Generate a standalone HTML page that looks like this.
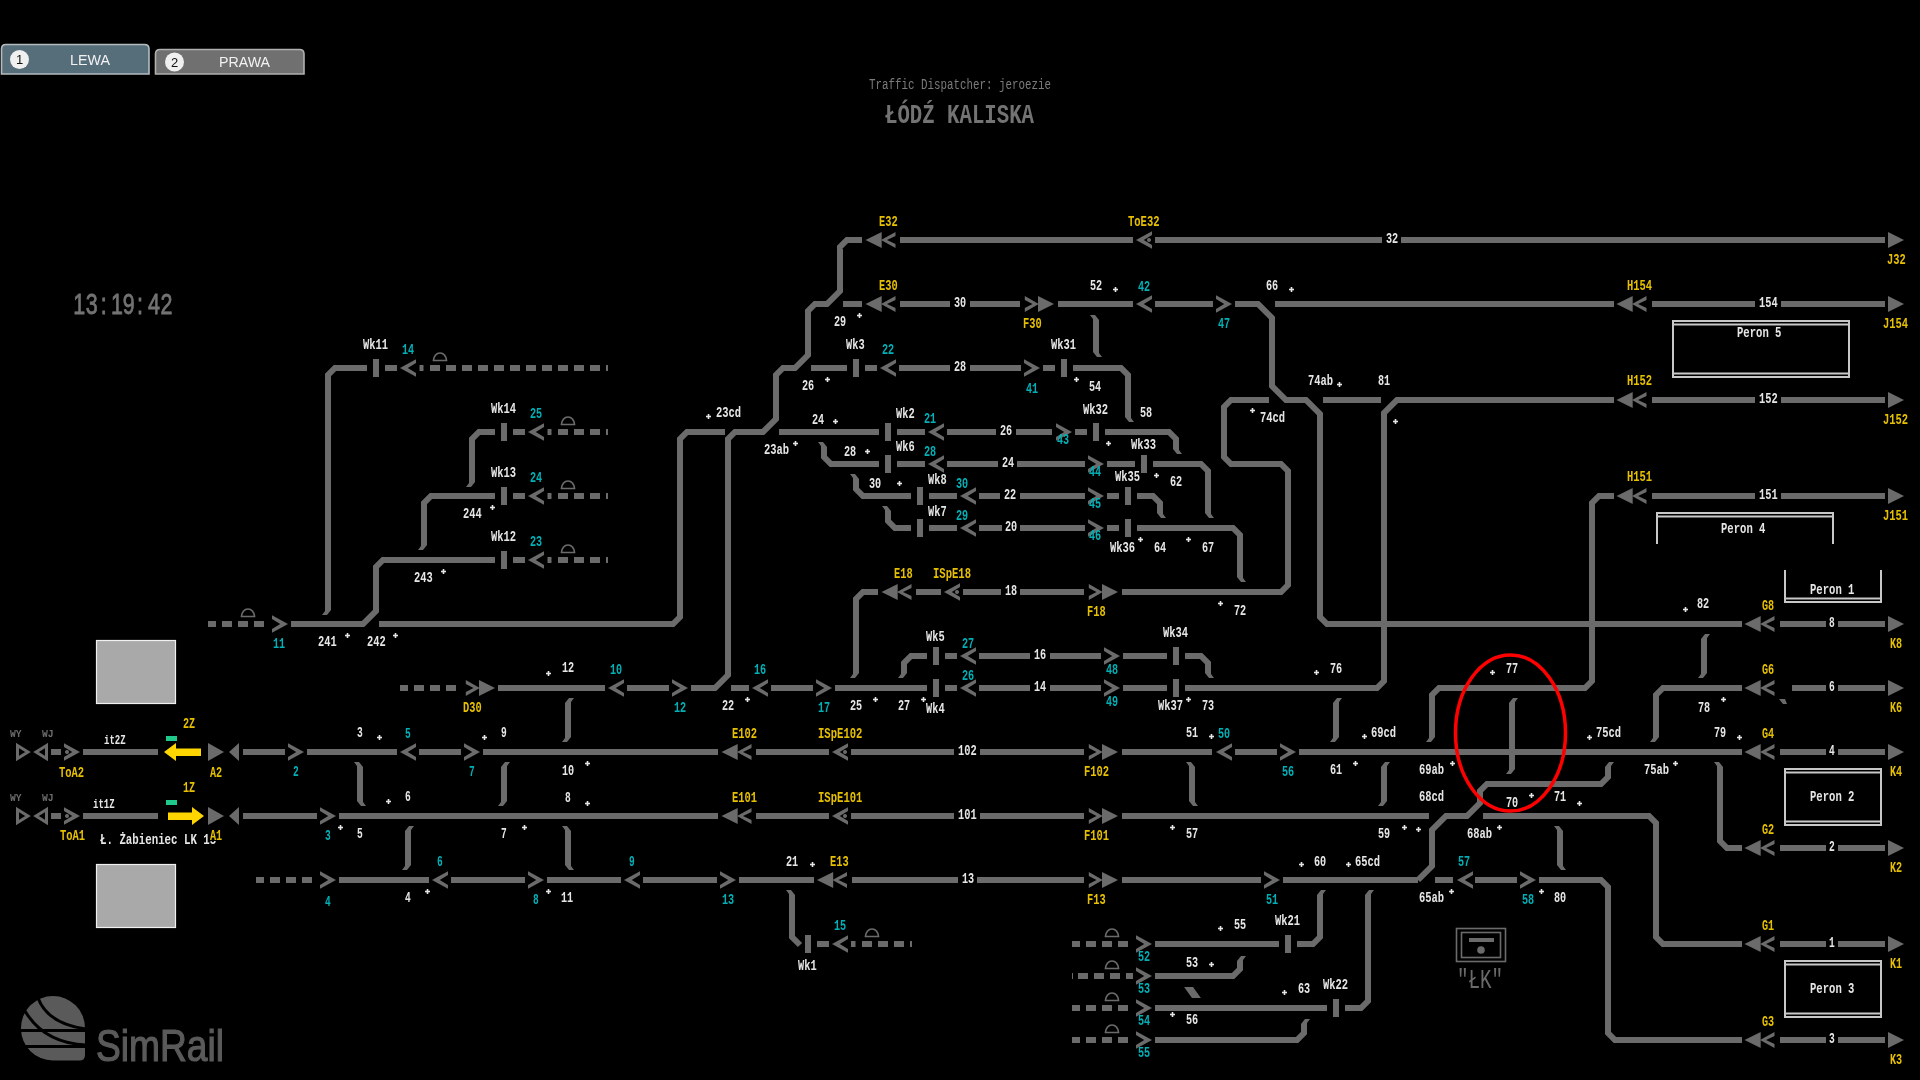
<!DOCTYPE html>
<html><head><meta charset="utf-8"><style>
html,body{margin:0;padding:0;background:#000;width:1920px;height:1080px;overflow:hidden}
svg{display:block;position:absolute;left:0;top:0;will-change:transform}
text{font-family:"Liberation Sans",sans-serif}
.l{font-weight:bold;font-family:"Liberation Mono",monospace}
</style></head><body>
<svg width="1920" height="1080" viewBox="0 0 1920 1080">
<rect width="1920" height="1080" fill="#000"/>
<!-- tabs -->
<path d="M1.5 74 V49 Q1.5 44.5 6 44.5 H144.5 Q149 44.5 149 49 V74 Z" fill="#566d7a" stroke="#b4bcc0" stroke-width="1.6"/>
<circle cx="19.5" cy="59.5" r="9.5" fill="#f0f0f0"/>
<text x="19.5" y="64" fill="#111" font-size="13" text-anchor="middle">1</text>
<text x="70" y="65" fill="#f2f2f2" font-size="15" textLength="40" lengthAdjust="spacingAndGlyphs">LEWA</text>
<path d="M155.5 74 V54 Q155.5 49.5 160 49.5 H299.5 Q304 49.5 304 54 V74 Z" fill="#707070" stroke="#b0b0b0" stroke-width="1.6"/>
<circle cx="174.5" cy="62" r="9.5" fill="#f0f0f0"/>
<text x="174.5" y="66.5" fill="#111" font-size="13" text-anchor="middle">2</text>
<text x="219" y="67" fill="#f2f2f2" font-size="15" textLength="51" lengthAdjust="spacingAndGlyphs">PRAWA</text>
<!-- header -->
<text x="869" y="88.5" fill="#7c7c7c" font-size="14" style="font-family:'Liberation Mono',monospace" textLength="182" lengthAdjust="spacingAndGlyphs">Traffic Dispatcher: jeroezie</text>
<text x="885" y="123" fill="#737373" font-size="27" font-weight="bold" style="font-family:'Liberation Mono',monospace" textLength="149" lengthAdjust="spacingAndGlyphs">ŁÓDŹ KALISKA</text>
<g transform="translate(0,314) scale(0.74,1)" fill="#737373" stroke="#737373" stroke-width="0.8" font-size="29"><text x="99">1</text><text x="116">3</text><text x="136">:</text><text x="150">1</text><text x="166">9</text><text x="185">:</text><text x="200">4</text><text x="217">2</text></g>
<!-- gray boxes -->
<rect x="96.5" y="640.5" width="79" height="63" fill="#a9a9a9" stroke="#f0f0f0" stroke-width="1.2"/>
<rect x="96.5" y="864.5" width="79" height="63" fill="#a9a9a9" stroke="#f0f0f0" stroke-width="1.2"/>
<!-- logo -->
<g fill="#5a5a5a">
<path d="M21 1028 A32 32 0 0 1 85 1028 V1055 Q85 1060.5 79.5 1060.5 H53 A32 32 0 0 1 21 1028 Z"/>
</g>
<g fill="none" stroke="#000" stroke-width="3">
<path d="M38 998 Q48 1024 86 1029"/>
<path d="M25 1011 Q44 1043 86 1045"/>
<path d="M18 1030.5 H88"/>
<path d="M18 1046.5 H88"/>
</g>
<text x="96" y="1060.5" fill="#5a5a5a" stroke="#5a5a5a" stroke-width="1.2" font-size="45" textLength="128" lengthAdjust="spacingAndGlyphs">SimRail</text>
<!-- LK icon -->
<rect x="1456.5" y="928.5" width="49" height="33" fill="none" stroke="#6b6b6b" stroke-width="1.6"/>
<rect x="1461.5" y="932.5" width="39" height="25" fill="none" stroke="#6b6b6b" stroke-width="1.6"/>
<rect x="1469" y="938" width="25" height="4" fill="#6b6b6b"/>
<circle cx="1481" cy="950" r="3.8" fill="#6b6b6b"/>
<text x="1457" y="988" fill="#6b6b6b" font-size="27" style="font-family:'Liberation Mono',monospace" textLength="46" lengthAdjust="spacingAndGlyphs">"ŁK"</text>
<path d="M862 240 L847 240 L840 247 L840 291 L827 304 L815 304 L808 311 L808 355 L795 368 L783 368 L776 375 L776 419 L763 432 L735 432 L728 439 L728 675 L715 688 L691 688" fill="none" stroke="#6b6b6b" stroke-width="6" stroke-linejoin="miter" stroke-miterlimit="10"/>
<polygon points="881.7,232 865.5,240 881.7,248" fill="#6b6b6b"/>
<polygon points="895.5,232 881,240 895.5,248 895.5,244.1 887,240 895.5,235.9" fill="#6b6b6b"/>
<rect x="900" y="237" width="233" height="6" fill="#6b6b6b"/>
<polygon points="1152,231.2 1136,240 1152,248.8 1152,244.9 1143.8,240 1152,235.1" fill="#6b6b6b"/>
<circle cx="1149" cy="240" r="2" fill="#6b6b6b"/>
<rect x="1155" y="237" width="227" height="6" fill="#6b6b6b"/>
<rect x="1401" y="237" width="484" height="6" fill="#6b6b6b"/>
<polygon points="1888,232 1904,240 1888,248" fill="#6b6b6b"/>
<rect x="843" y="301" width="19" height="6" fill="#6b6b6b"/>
<polygon points="881.7,296 865.5,304 881.7,312" fill="#6b6b6b"/>
<polygon points="895.5,296 881,304 895.5,312 895.5,308.1 887,304 895.5,299.9" fill="#6b6b6b"/>
<rect x="900" y="301" width="50" height="6" fill="#6b6b6b"/>
<rect x="970" y="301" width="50" height="6" fill="#6b6b6b"/>
<polygon points="1024.8,296 1038.8,304 1024.8,312 1024.8,308.1 1032.5,304 1024.8,299.9" fill="#6b6b6b"/>
<polygon points="1038,296 1054,304 1038,312" fill="#6b6b6b"/>
<rect x="1058" y="301" width="75" height="6" fill="#6b6b6b"/>
<polygon points="1152,295.2 1136,304 1152,312.8 1152,308.9 1143.8,304 1152,299.1" fill="#6b6b6b"/>
<rect x="1155" y="301" width="58" height="6" fill="#6b6b6b"/>
<polygon points="1216,295.2 1232,304 1216,312.8 1216,308.9 1224.2,304 1216,299.1" fill="#6b6b6b"/>
<path d="M1235 304 L1258 304 L1272 318 L1272 386 L1286 400 L1306 400 L1320 414 L1320 617 L1327 624 L1742 624" fill="none" stroke="#6b6b6b" stroke-width="6" stroke-linejoin="miter" stroke-miterlimit="10"/>
<rect x="1275" y="301" width="339" height="6" fill="#6b6b6b"/>
<polygon points="1632.7,296 1616.5,304 1632.7,312" fill="#6b6b6b"/>
<polygon points="1646.5,296 1632,304 1646.5,312 1646.5,308.1 1638,304 1646.5,299.9" fill="#6b6b6b"/>
<rect x="1652" y="301" width="103" height="6" fill="#6b6b6b"/>
<rect x="1781" y="301" width="104" height="6" fill="#6b6b6b"/>
<polygon points="1888,296 1904,304 1888,312" fill="#6b6b6b"/>
<rect x="1093" y="321" width="6" height="30" fill="#6b6b6b"/>
<polygon points="1099,322 1099,320 1095,315 1090,315 1093,319 1093,322" fill="#6b6b6b"/>
<polygon points="1093,350 1093,352 1097,357 1102,357 1099,353 1099,350" fill="#6b6b6b"/>
<path d="M367 368 L335 368 L328 375 L328 609" fill="none" stroke="#6b6b6b" stroke-width="6" stroke-linejoin="miter" stroke-miterlimit="10"/>
<polygon points="331,608 331,610 327,615 322,615 325,611 325,608" fill="#6b6b6b"/>
<rect x="373" y="359" width="6" height="18" fill="#6b6b6b"/>
<rect x="385" y="365" width="12" height="6" fill="#6b6b6b"/>
<polygon points="416,359.2 400,368 416,376.8 416,372.9 407.8,368 416,363.1" fill="#6b6b6b"/>
<rect x="419.5" y="365" width="4" height="6" fill="#6b6b6b"/>
<rect x="430" y="365" width="10" height="6" fill="#6b6b6b"/>
<rect x="446" y="365" width="10" height="6" fill="#6b6b6b"/>
<rect x="462" y="365" width="10" height="6" fill="#6b6b6b"/>
<rect x="478" y="365" width="10" height="6" fill="#6b6b6b"/>
<rect x="494" y="365" width="10" height="6" fill="#6b6b6b"/>
<rect x="510" y="365" width="10" height="6" fill="#6b6b6b"/>
<rect x="526" y="365" width="10" height="6" fill="#6b6b6b"/>
<rect x="542" y="365" width="10" height="6" fill="#6b6b6b"/>
<rect x="558" y="365" width="10" height="6" fill="#6b6b6b"/>
<rect x="574" y="365" width="10" height="6" fill="#6b6b6b"/>
<rect x="590" y="365" width="10" height="6" fill="#6b6b6b"/>
<rect x="606" y="365" width="2" height="6" fill="#6b6b6b"/>
<path d="M433.5 360.5 A6.5 7.5 0 0 1 446.5 360.5 Z" fill="none" stroke="#6b6b6b" stroke-width="1.7"/>
<rect x="811" y="365" width="36" height="6" fill="#6b6b6b"/>
<rect x="853" y="359" width="6" height="18" fill="#6b6b6b"/>
<rect x="865" y="365" width="12" height="6" fill="#6b6b6b"/>
<polygon points="896,359.2 880,368 896,376.8 896,372.9 887.8,368 896,363.1" fill="#6b6b6b"/>
<rect x="899" y="365" width="51" height="6" fill="#6b6b6b"/>
<rect x="970" y="365" width="51" height="6" fill="#6b6b6b"/>
<polygon points="1024,359.2 1040,368 1024,376.8 1024,372.9 1032.2,368 1024,363.1" fill="#6b6b6b"/>
<rect x="1043" y="365" width="12" height="6" fill="#6b6b6b"/>
<rect x="1061" y="359" width="6" height="18" fill="#6b6b6b"/>
<path d="M1073 368 L1121 368 L1128 375 L1128 416" fill="none" stroke="#6b6b6b" stroke-width="6" stroke-linejoin="miter" stroke-miterlimit="10"/>
<polygon points="1125,415 1125,417 1129,422 1134,422 1131,418 1131,415" fill="#6b6b6b"/>
<path d="M1269 400 L1231 400 L1224 407 L1224 457 L1231 464 L1281 464 L1288 471 L1288 585 L1281 592 L1122 592" fill="none" stroke="#6b6b6b" stroke-width="6" stroke-linejoin="miter" stroke-miterlimit="10"/>
<rect x="1323" y="397" width="58" height="6" fill="#6b6b6b"/>
<path d="M1185 688 L1377 688 L1384 681 L1384 413 L1397 400 L1614 400" fill="none" stroke="#6b6b6b" stroke-width="6" stroke-linejoin="miter" stroke-miterlimit="10"/>
<polygon points="1632.7,392 1616.5,400 1632.7,408" fill="#6b6b6b"/>
<polygon points="1646.5,392 1632,400 1646.5,408 1646.5,404.1 1638,400 1646.5,395.9" fill="#6b6b6b"/>
<rect x="1652" y="397" width="103" height="6" fill="#6b6b6b"/>
<rect x="1781" y="397" width="104" height="6" fill="#6b6b6b"/>
<polygon points="1888,392 1904,400 1888,408" fill="#6b6b6b"/>
<path d="M495 432 L479 432 L472 439 L472 481" fill="none" stroke="#6b6b6b" stroke-width="6" stroke-linejoin="miter" stroke-miterlimit="10"/>
<polygon points="475,480 475,482 471,487 466,487 469,483 469,480" fill="#6b6b6b"/>
<rect x="501" y="423" width="6" height="18" fill="#6b6b6b"/>
<rect x="513" y="429" width="12" height="6" fill="#6b6b6b"/>
<polygon points="544,423.2 528,432 544,440.8 544,436.9 535.8,432 544,427.1" fill="#6b6b6b"/>
<rect x="547.5" y="429" width="4" height="6" fill="#6b6b6b"/>
<rect x="558" y="429" width="10" height="6" fill="#6b6b6b"/>
<rect x="574" y="429" width="10" height="6" fill="#6b6b6b"/>
<rect x="590" y="429" width="10" height="6" fill="#6b6b6b"/>
<rect x="606" y="429" width="2" height="6" fill="#6b6b6b"/>
<path d="M561.5 424.5 A6.5 7.5 0 0 1 574.5 424.5 Z" fill="none" stroke="#6b6b6b" stroke-width="1.7"/>
<path d="M379 624 L673 624 L680 617 L680 439 L687 432 L725 432" fill="none" stroke="#6b6b6b" stroke-width="6" stroke-linejoin="miter" stroke-miterlimit="10"/>
<rect x="779" y="429" width="100" height="6" fill="#6b6b6b"/>
<rect x="885" y="423" width="6" height="18" fill="#6b6b6b"/>
<rect x="897" y="429" width="28" height="6" fill="#6b6b6b"/>
<polygon points="944,423.2 928,432 944,440.8 944,436.9 935.8,432 944,427.1" fill="#6b6b6b"/>
<rect x="947" y="429" width="49" height="6" fill="#6b6b6b"/>
<rect x="1016" y="429" width="36" height="6" fill="#6b6b6b"/>
<polygon points="1056,423.2 1072,432 1056,440.8 1056,436.9 1064.2,432 1056,427.1" fill="#6b6b6b"/>
<rect x="1075" y="429" width="12" height="6" fill="#6b6b6b"/>
<rect x="1093" y="423" width="6" height="18" fill="#6b6b6b"/>
<path d="M1105 432 L1169 432 L1176 439 L1176 448" fill="none" stroke="#6b6b6b" stroke-width="6" stroke-linejoin="miter" stroke-miterlimit="10"/>
<polygon points="1173,447 1173,449 1177,454 1182,454 1179,450 1179,447" fill="#6b6b6b"/>
<path d="M824 448 L824 457 L831 464 L879 464" fill="none" stroke="#6b6b6b" stroke-width="6" stroke-linejoin="miter" stroke-miterlimit="10"/>
<polygon points="827,449 827,447 823,442 818,442 821,446 821,449" fill="#6b6b6b"/>
<rect x="885" y="455" width="6" height="18" fill="#6b6b6b"/>
<rect x="897" y="461" width="28" height="6" fill="#6b6b6b"/>
<polygon points="944,455.2 928,464 944,472.8 944,468.9 935.8,464 944,459.1" fill="#6b6b6b"/>
<rect x="947" y="461" width="51" height="6" fill="#6b6b6b"/>
<rect x="1017" y="461" width="68" height="6" fill="#6b6b6b"/>
<polygon points="1088,455.2 1104,464 1088,472.8 1088,468.9 1096.2,464 1088,459.1" fill="#6b6b6b"/>
<rect x="1107" y="461" width="28" height="6" fill="#6b6b6b"/>
<rect x="1141" y="455" width="6" height="18" fill="#6b6b6b"/>
<path d="M1153 464 L1201 464 L1208 471 L1208 512" fill="none" stroke="#6b6b6b" stroke-width="6" stroke-linejoin="miter" stroke-miterlimit="10"/>
<polygon points="1205,511 1205,513 1209,518 1214,518 1211,514 1211,511" fill="#6b6b6b"/>
<path d="M495 496 L431 496 L424 503 L424 544" fill="none" stroke="#6b6b6b" stroke-width="6" stroke-linejoin="miter" stroke-miterlimit="10"/>
<polygon points="427,543 427,545 423,550 418,550 421,546 421,543" fill="#6b6b6b"/>
<rect x="501" y="487" width="6" height="18" fill="#6b6b6b"/>
<rect x="513" y="493" width="12" height="6" fill="#6b6b6b"/>
<polygon points="544,487.2 528,496 544,504.8 544,500.9 535.8,496 544,491.1" fill="#6b6b6b"/>
<rect x="547.5" y="493" width="4" height="6" fill="#6b6b6b"/>
<rect x="558" y="493" width="10" height="6" fill="#6b6b6b"/>
<rect x="574" y="493" width="10" height="6" fill="#6b6b6b"/>
<rect x="590" y="493" width="10" height="6" fill="#6b6b6b"/>
<rect x="606" y="493" width="2" height="6" fill="#6b6b6b"/>
<path d="M561.5 488.5 A6.5 7.5 0 0 1 574.5 488.5 Z" fill="none" stroke="#6b6b6b" stroke-width="1.7"/>
<path d="M856 480 L856 489 L863 496 L911 496" fill="none" stroke="#6b6b6b" stroke-width="6" stroke-linejoin="miter" stroke-miterlimit="10"/>
<polygon points="859,481 859,479 855,474 850,474 853,478 853,481" fill="#6b6b6b"/>
<rect x="917" y="487" width="6" height="18" fill="#6b6b6b"/>
<rect x="929" y="493" width="28" height="6" fill="#6b6b6b"/>
<polygon points="976,487.2 960,496 976,504.8 976,500.9 967.8,496 976,491.1" fill="#6b6b6b"/>
<rect x="979" y="493" width="21" height="6" fill="#6b6b6b"/>
<rect x="1020" y="493" width="65" height="6" fill="#6b6b6b"/>
<polygon points="1088,487.2 1104,496 1088,504.8 1088,500.9 1096.2,496 1088,491.1" fill="#6b6b6b"/>
<rect x="1107" y="493" width="12" height="6" fill="#6b6b6b"/>
<rect x="1125" y="487" width="6" height="18" fill="#6b6b6b"/>
<path d="M1137 496 L1153 496 L1160 503 L1160 512" fill="none" stroke="#6b6b6b" stroke-width="6" stroke-linejoin="miter" stroke-miterlimit="10"/>
<polygon points="1157,511 1157,513 1161,518 1166,518 1163,514 1163,511" fill="#6b6b6b"/>
<path d="M1614 496 L1599 496 L1592 503 L1592 681 L1585 688 L1439 688 L1432 695 L1432 736" fill="none" stroke="#6b6b6b" stroke-width="6" stroke-linejoin="miter" stroke-miterlimit="10"/>
<polygon points="1435,735 1435,737 1431,742 1426,742 1429,738 1429,735" fill="#6b6b6b"/>
<polygon points="1632.7,488 1616.5,496 1632.7,504" fill="#6b6b6b"/>
<polygon points="1646.5,488 1632,496 1646.5,504 1646.5,500.1 1638,496 1646.5,491.9" fill="#6b6b6b"/>
<rect x="1652" y="493" width="103" height="6" fill="#6b6b6b"/>
<rect x="1781" y="493" width="104" height="6" fill="#6b6b6b"/>
<polygon points="1888,488 1904,496 1888,504" fill="#6b6b6b"/>
<path d="M888 512 L888 521 L895 528 L911 528" fill="none" stroke="#6b6b6b" stroke-width="6" stroke-linejoin="miter" stroke-miterlimit="10"/>
<polygon points="891,513 891,511 887,506 882,506 885,510 885,513" fill="#6b6b6b"/>
<rect x="917" y="519" width="6" height="18" fill="#6b6b6b"/>
<rect x="929" y="525" width="28" height="6" fill="#6b6b6b"/>
<polygon points="976,519.2 960,528 976,536.8 976,532.9 967.8,528 976,523.1" fill="#6b6b6b"/>
<rect x="979" y="525" width="23" height="6" fill="#6b6b6b"/>
<rect x="1020" y="525" width="65" height="6" fill="#6b6b6b"/>
<polygon points="1088,519.2 1104,528 1088,536.8 1088,532.9 1096.2,528 1088,523.1" fill="#6b6b6b"/>
<rect x="1107" y="525" width="12" height="6" fill="#6b6b6b"/>
<rect x="1125" y="519" width="6" height="18" fill="#6b6b6b"/>
<path d="M1137 528 L1233 528 L1240 535 L1240 576" fill="none" stroke="#6b6b6b" stroke-width="6" stroke-linejoin="miter" stroke-miterlimit="10"/>
<polygon points="1237,575 1237,577 1241,582 1246,582 1243,578 1243,575" fill="#6b6b6b"/>
<path d="M291 624 L363 624 L376 611 L376 567 L383 560 L495 560" fill="none" stroke="#6b6b6b" stroke-width="6" stroke-linejoin="miter" stroke-miterlimit="10"/>
<rect x="501" y="551" width="6" height="18" fill="#6b6b6b"/>
<rect x="513" y="557" width="12" height="6" fill="#6b6b6b"/>
<polygon points="544,551.2 528,560 544,568.8 544,564.9 535.8,560 544,555.1" fill="#6b6b6b"/>
<rect x="547.5" y="557" width="4" height="6" fill="#6b6b6b"/>
<rect x="558" y="557" width="10" height="6" fill="#6b6b6b"/>
<rect x="574" y="557" width="10" height="6" fill="#6b6b6b"/>
<rect x="590" y="557" width="10" height="6" fill="#6b6b6b"/>
<rect x="606" y="557" width="2" height="6" fill="#6b6b6b"/>
<path d="M561.5 552.5 A6.5 7.5 0 0 1 574.5 552.5 Z" fill="none" stroke="#6b6b6b" stroke-width="1.7"/>
<path d="M878 592 L863 592 L856 599 L856 672" fill="none" stroke="#6b6b6b" stroke-width="6" stroke-linejoin="miter" stroke-miterlimit="10"/>
<polygon points="859,671 859,673 855,678 850,678 853,674 853,671" fill="#6b6b6b"/>
<polygon points="897.7,584 881.5,592 897.7,600" fill="#6b6b6b"/>
<polygon points="911.5,584 897,592 911.5,600 911.5,596.1 903,592 911.5,587.9" fill="#6b6b6b"/>
<rect x="916" y="589" width="25" height="6" fill="#6b6b6b"/>
<polygon points="960,583.2 944,592 960,600.8 960,596.9 951.8,592 960,587.1" fill="#6b6b6b"/>
<circle cx="957" cy="592" r="2" fill="#6b6b6b"/>
<rect x="963" y="589" width="38" height="6" fill="#6b6b6b"/>
<rect x="1020" y="589" width="64" height="6" fill="#6b6b6b"/>
<polygon points="1088.8,584 1102.8,592 1088.8,600 1088.8,596.1 1096.5,592 1088.8,587.9" fill="#6b6b6b"/>
<polygon points="1102,584 1118,592 1102,600" fill="#6b6b6b"/>
<rect x="208" y="621" width="8" height="6" fill="#6b6b6b"/>
<rect x="222" y="621" width="10" height="6" fill="#6b6b6b"/>
<rect x="238" y="621" width="10" height="6" fill="#6b6b6b"/>
<rect x="254" y="621" width="10" height="6" fill="#6b6b6b"/>
<polygon points="272,615.2 288,624 272,632.8 272,628.9 280.2,624 272,619.1" fill="#6b6b6b"/>
<path d="M241.5 616.5 A6.5 7.5 0 0 1 254.5 616.5 Z" fill="none" stroke="#6b6b6b" stroke-width="1.7"/>
<polygon points="1760.7,616 1744.5,624 1760.7,632" fill="#6b6b6b"/>
<polygon points="1774.5,616 1760,624 1774.5,632 1774.5,628.1 1766,624 1774.5,619.9" fill="#6b6b6b"/>
<rect x="1780" y="621" width="46" height="6" fill="#6b6b6b"/>
<rect x="1838" y="621" width="47" height="6" fill="#6b6b6b"/>
<polygon points="1888,616 1904,624 1888,632" fill="#6b6b6b"/>
<rect x="1701" y="640" width="6" height="32" fill="#6b6b6b"/>
<polygon points="1701,641 1701,639 1705,634 1710,634 1707,638 1707,641" fill="#6b6b6b"/>
<polygon points="1707,671 1707,673 1703,678 1698,678 1701,674 1701,671" fill="#6b6b6b"/>
<path d="M927 656 L911 656 L904 663 L904 672" fill="none" stroke="#6b6b6b" stroke-width="6" stroke-linejoin="miter" stroke-miterlimit="10"/>
<polygon points="907,671 907,673 903,678 898,678 901,674 901,671" fill="#6b6b6b"/>
<rect x="933" y="647" width="6" height="18" fill="#6b6b6b"/>
<rect x="945" y="653" width="12" height="6" fill="#6b6b6b"/>
<polygon points="976,647.2 960,656 976,664.8 976,660.9 967.8,656 976,651.1" fill="#6b6b6b"/>
<rect x="979" y="653" width="51" height="6" fill="#6b6b6b"/>
<rect x="1050" y="653" width="51" height="6" fill="#6b6b6b"/>
<polygon points="1104,647.2 1120,656 1104,664.8 1104,660.9 1112.2,656 1104,651.1" fill="#6b6b6b"/>
<rect x="1123" y="653" width="44" height="6" fill="#6b6b6b"/>
<rect x="1173" y="647" width="6" height="18" fill="#6b6b6b"/>
<path d="M1185 656 L1201 656 L1208 663 L1208 672" fill="none" stroke="#6b6b6b" stroke-width="6" stroke-linejoin="miter" stroke-miterlimit="10"/>
<polygon points="1205,671 1205,673 1209,678 1214,678 1211,674 1211,671" fill="#6b6b6b"/>
<rect x="400" y="685" width="8" height="6" fill="#6b6b6b"/>
<rect x="414" y="685" width="10" height="6" fill="#6b6b6b"/>
<rect x="430" y="685" width="10" height="6" fill="#6b6b6b"/>
<rect x="446" y="685" width="10" height="6" fill="#6b6b6b"/>
<polygon points="465.8,680 479.8,688 465.8,696 465.8,692.1 473.5,688 465.8,683.9" fill="#6b6b6b"/>
<polygon points="479,680 495,688 479,696" fill="#6b6b6b"/>
<rect x="498" y="685" width="107" height="6" fill="#6b6b6b"/>
<polygon points="624,679.2 608,688 624,696.8 624,692.9 615.8,688 624,683.1" fill="#6b6b6b"/>
<rect x="627" y="685" width="42" height="6" fill="#6b6b6b"/>
<polygon points="672,679.2 688,688 672,696.8 672,692.9 680.2,688 672,683.1" fill="#6b6b6b"/>
<rect x="731" y="685" width="18" height="6" fill="#6b6b6b"/>
<polygon points="768,679.2 752,688 768,696.8 768,692.9 759.8,688 768,683.1" fill="#6b6b6b"/>
<rect x="771" y="685" width="42" height="6" fill="#6b6b6b"/>
<polygon points="816,679.2 832,688 816,696.8 816,692.9 824.2,688 816,683.1" fill="#6b6b6b"/>
<rect x="835" y="685" width="92" height="6" fill="#6b6b6b"/>
<rect x="933" y="679" width="6" height="18" fill="#6b6b6b"/>
<rect x="945" y="685" width="12" height="6" fill="#6b6b6b"/>
<polygon points="976,679.2 960,688 976,696.8 976,692.9 967.8,688 976,683.1" fill="#6b6b6b"/>
<rect x="979" y="685" width="51" height="6" fill="#6b6b6b"/>
<rect x="1050" y="685" width="51" height="6" fill="#6b6b6b"/>
<polygon points="1104,679.2 1120,688 1104,696.8 1104,692.9 1112.2,688 1104,683.1" fill="#6b6b6b"/>
<rect x="1123" y="685" width="44" height="6" fill="#6b6b6b"/>
<rect x="1173" y="679" width="6" height="18" fill="#6b6b6b"/>
<path d="M1742 688 L1663 688 L1656 695 L1656 736" fill="none" stroke="#6b6b6b" stroke-width="6" stroke-linejoin="miter" stroke-miterlimit="10"/>
<polygon points="1659,735 1659,737 1655,742 1650,742 1653,738 1653,735" fill="#6b6b6b"/>
<polygon points="1760.7,680 1744.5,688 1760.7,696" fill="#6b6b6b"/>
<polygon points="1774.5,680 1760,688 1774.5,696 1774.5,692.1 1766,688 1774.5,683.9" fill="#6b6b6b"/>
<rect x="1792" y="685" width="34" height="6" fill="#6b6b6b"/>
<rect x="1838" y="685" width="47" height="6" fill="#6b6b6b"/>
<polygon points="1888,680 1904,688 1888,696" fill="#6b6b6b"/>
<path d="M1779 699 L1785 699 L1787 704 L1783 704 Z" fill="#6b6b6b"/>
<rect x="565" y="704" width="6" height="32" fill="#6b6b6b"/>
<polygon points="565,705 565,703 569,698 574,698 571,702 571,705" fill="#6b6b6b"/>
<polygon points="571,735 571,737 567,742 562,742 565,738 565,735" fill="#6b6b6b"/>
<rect x="1333" y="704" width="6" height="32" fill="#6b6b6b"/>
<polygon points="1333,705 1333,703 1337,698 1342,698 1339,702 1339,705" fill="#6b6b6b"/>
<polygon points="1339,735 1339,737 1335,742 1330,742 1333,738 1333,735" fill="#6b6b6b"/>
<rect x="1509" y="704" width="6" height="64" fill="#6b6b6b"/>
<polygon points="1509,705 1509,703 1513,698 1518,698 1515,702 1515,705" fill="#6b6b6b"/>
<polygon points="1515,767 1515,769 1511,774 1506,774 1509,770 1509,767" fill="#6b6b6b"/>
<path d="M17.5 745.5 L28 752 L17.5 758.5 Z" fill="none" stroke="#6b6b6b" stroke-width="3"/>
<path d="M46.5 745.5 L36 752 L46.5 758.5 Z" fill="none" stroke="#6b6b6b" stroke-width="3"/>
<rect x="51" y="749" width="10" height="6" fill="#6b6b6b"/>
<polygon points="64,743.2 80,752 64,760.8 64,756.9 72.2,752 64,747.1" fill="#6b6b6b"/>
<circle cx="67" cy="752" r="2" fill="#6b6b6b"/>
<rect x="83" y="749" width="75" height="6" fill="#6b6b6b"/>
<polygon points="208,743 224,752 208,761" fill="#6b6b6b"/>
<polygon points="239,743 229,752 239,761" fill="#6b6b6b"/>
<text class="l" x="10" y="737" fill="#6b6b6b" font-size="11.5" textLength="11.7" lengthAdjust="spacingAndGlyphs">WY</text>
<text class="l" x="42" y="737" fill="#6b6b6b" font-size="11.5" textLength="11.7" lengthAdjust="spacingAndGlyphs">WJ</text>
<path d="M17.5 809.5 L28 816 L17.5 822.5 Z" fill="none" stroke="#6b6b6b" stroke-width="3"/>
<path d="M46.5 809.5 L36 816 L46.5 822.5 Z" fill="none" stroke="#6b6b6b" stroke-width="3"/>
<rect x="51" y="813" width="10" height="6" fill="#6b6b6b"/>
<polygon points="64,807.2 80,816 64,824.8 64,820.9 72.2,816 64,811.1" fill="#6b6b6b"/>
<circle cx="67" cy="816" r="2" fill="#6b6b6b"/>
<rect x="83" y="813" width="75" height="6" fill="#6b6b6b"/>
<polygon points="208,807 224,816 208,825" fill="#6b6b6b"/>
<polygon points="239,807 229,816 239,825" fill="#6b6b6b"/>
<text class="l" x="10" y="801" fill="#6b6b6b" font-size="11.5" textLength="11.7" lengthAdjust="spacingAndGlyphs">WY</text>
<text class="l" x="42" y="801" fill="#6b6b6b" font-size="11.5" textLength="11.7" lengthAdjust="spacingAndGlyphs">WJ</text>
<polygon points="164,752 176,743 176,761" fill="#ffd500"/>
<rect x="175" y="748.5" width="26" height="7.5" fill="#ffd500"/>
<polygon points="204,816 192,807 192,825" fill="#ffd500"/>
<rect x="168" y="812.5" width="25" height="7.5" fill="#ffd500"/>
<rect x="166" y="736" width="11" height="5" fill="#1fc98c"/>
<rect x="166" y="800" width="11" height="5" fill="#1fc98c"/>
<rect x="243" y="749" width="42" height="6" fill="#6b6b6b"/>
<polygon points="288,743.2 304,752 288,760.8 288,756.9 296.2,752 288,747.1" fill="#6b6b6b"/>
<rect x="307" y="749" width="90" height="6" fill="#6b6b6b"/>
<polygon points="416,743.2 400,752 416,760.8 416,756.9 407.8,752 416,747.1" fill="#6b6b6b"/>
<rect x="419" y="749" width="42" height="6" fill="#6b6b6b"/>
<polygon points="464,743.2 480,752 464,760.8 464,756.9 472.2,752 464,747.1" fill="#6b6b6b"/>
<rect x="483" y="749" width="235" height="6" fill="#6b6b6b"/>
<polygon points="737.7,744 721.5,752 737.7,760" fill="#6b6b6b"/>
<polygon points="751.5,744 737,752 751.5,760 751.5,756.1 743,752 751.5,747.9" fill="#6b6b6b"/>
<rect x="756" y="749" width="73" height="6" fill="#6b6b6b"/>
<polygon points="848,743.2 832,752 848,760.8 848,756.9 839.8,752 848,747.1" fill="#6b6b6b"/>
<circle cx="845" cy="752" r="2" fill="#6b6b6b"/>
<rect x="851" y="749" width="103" height="6" fill="#6b6b6b"/>
<rect x="980" y="749" width="104" height="6" fill="#6b6b6b"/>
<polygon points="1088.8,744 1102.8,752 1088.8,760 1088.8,756.1 1096.5,752 1088.8,747.9" fill="#6b6b6b"/>
<polygon points="1102,744 1118,752 1102,760" fill="#6b6b6b"/>
<rect x="1122" y="749" width="90" height="6" fill="#6b6b6b"/>
<polygon points="1232,743.2 1216,752 1232,760.8 1232,756.9 1223.8,752 1232,747.1" fill="#6b6b6b"/>
<rect x="1235" y="749" width="42" height="6" fill="#6b6b6b"/>
<polygon points="1280,743.2 1296,752 1280,760.8 1280,756.9 1288.2,752 1280,747.1" fill="#6b6b6b"/>
<rect x="1299" y="749" width="443" height="6" fill="#6b6b6b"/>
<polygon points="1760.7,744 1744.5,752 1760.7,760" fill="#6b6b6b"/>
<polygon points="1774.5,744 1760,752 1774.5,760 1774.5,756.1 1766,752 1774.5,747.9" fill="#6b6b6b"/>
<rect x="1780" y="749" width="46" height="6" fill="#6b6b6b"/>
<rect x="1838" y="749" width="47" height="6" fill="#6b6b6b"/>
<polygon points="1888,744 1904,752 1888,760" fill="#6b6b6b"/>
<rect x="357" y="768" width="6" height="32" fill="#6b6b6b"/>
<polygon points="363,769 363,767 359,762 354,762 357,766 357,769" fill="#6b6b6b"/>
<polygon points="357,799 357,801 361,806 366,806 363,802 363,799" fill="#6b6b6b"/>
<rect x="501" y="768" width="6" height="32" fill="#6b6b6b"/>
<polygon points="501,769 501,767 505,762 510,762 507,766 507,769" fill="#6b6b6b"/>
<polygon points="507,799 507,801 503,806 498,806 501,802 501,799" fill="#6b6b6b"/>
<rect x="1189" y="768" width="6" height="32" fill="#6b6b6b"/>
<polygon points="1195,769 1195,767 1191,762 1186,762 1189,766 1189,769" fill="#6b6b6b"/>
<polygon points="1189,799 1189,801 1193,806 1198,806 1195,802 1195,799" fill="#6b6b6b"/>
<rect x="1381" y="768" width="6" height="32" fill="#6b6b6b"/>
<polygon points="1381,769 1381,767 1385,762 1390,762 1387,766 1387,769" fill="#6b6b6b"/>
<polygon points="1387,799 1387,801 1383,806 1378,806 1381,802 1381,799" fill="#6b6b6b"/>
<path d="M1742 848 L1727 848 L1720 841 L1720 768" fill="none" stroke="#6b6b6b" stroke-width="6" stroke-linejoin="miter" stroke-miterlimit="10"/>
<polygon points="1723,769 1723,767 1719,762 1714,762 1717,766 1717,769" fill="#6b6b6b"/>
<polygon points="1760.7,840 1744.5,848 1760.7,856" fill="#6b6b6b"/>
<polygon points="1774.5,840 1760,848 1774.5,856 1774.5,852.1 1766,848 1774.5,843.9" fill="#6b6b6b"/>
<rect x="1780" y="845" width="46" height="6" fill="#6b6b6b"/>
<rect x="1838" y="845" width="47" height="6" fill="#6b6b6b"/>
<polygon points="1888,840 1904,848 1888,856" fill="#6b6b6b"/>
<path d="M1418 880 L1432 866 L1432 830 L1446 816 L1467 816 L1480 803 L1480 791 L1487 784 L1601 784 L1608 777 L1608 768" fill="none" stroke="#6b6b6b" stroke-width="6" stroke-linejoin="miter" stroke-miterlimit="10"/>
<polygon points="1605,769 1605,767 1609,762 1614,762 1611,766 1611,769" fill="#6b6b6b"/>
<rect x="243" y="813" width="74" height="6" fill="#6b6b6b"/>
<polygon points="320,807.2 336,816 320,824.8 320,820.9 328.2,816 320,811.1" fill="#6b6b6b"/>
<rect x="339" y="813" width="379" height="6" fill="#6b6b6b"/>
<polygon points="737.7,808 721.5,816 737.7,824" fill="#6b6b6b"/>
<polygon points="751.5,808 737,816 751.5,824 751.5,820.1 743,816 751.5,811.9" fill="#6b6b6b"/>
<rect x="756" y="813" width="73" height="6" fill="#6b6b6b"/>
<polygon points="848,807.2 832,816 848,824.8 848,820.9 839.8,816 848,811.1" fill="#6b6b6b"/>
<circle cx="845" cy="816" r="2" fill="#6b6b6b"/>
<rect x="851" y="813" width="103" height="6" fill="#6b6b6b"/>
<rect x="980" y="813" width="104" height="6" fill="#6b6b6b"/>
<polygon points="1088.8,808 1102.8,816 1088.8,824 1088.8,820.1 1096.5,816 1088.8,811.9" fill="#6b6b6b"/>
<polygon points="1102,808 1118,816 1102,824" fill="#6b6b6b"/>
<rect x="1122" y="813" width="307" height="6" fill="#6b6b6b"/>
<path d="M1483 816 L1649 816 L1656 823 L1656 937 L1663 944 L1742 944" fill="none" stroke="#6b6b6b" stroke-width="6" stroke-linejoin="miter" stroke-miterlimit="10"/>
<rect x="405" y="832" width="6" height="32" fill="#6b6b6b"/>
<polygon points="405,833 405,831 409,826 414,826 411,830 411,833" fill="#6b6b6b"/>
<polygon points="411,863 411,865 407,870 402,870 405,866 405,863" fill="#6b6b6b"/>
<rect x="565" y="832" width="6" height="32" fill="#6b6b6b"/>
<polygon points="571,833 571,831 567,826 562,826 565,830 565,833" fill="#6b6b6b"/>
<polygon points="565,863 565,865 569,870 574,870 571,866 571,863" fill="#6b6b6b"/>
<rect x="1557" y="832" width="6" height="32" fill="#6b6b6b"/>
<polygon points="1563,833 1563,831 1559,826 1554,826 1557,830 1557,833" fill="#6b6b6b"/>
<polygon points="1557,863 1557,865 1561,870 1566,870 1563,866 1563,863" fill="#6b6b6b"/>
<rect x="256" y="877" width="8" height="6" fill="#6b6b6b"/>
<rect x="270" y="877" width="10" height="6" fill="#6b6b6b"/>
<rect x="286" y="877" width="10" height="6" fill="#6b6b6b"/>
<rect x="302" y="877" width="10" height="6" fill="#6b6b6b"/>
<polygon points="320,871.2 336,880 320,888.8 320,884.9 328.2,880 320,875.1" fill="#6b6b6b"/>
<rect x="339" y="877" width="90" height="6" fill="#6b6b6b"/>
<polygon points="448,871.2 432,880 448,888.8 448,884.9 439.8,880 448,875.1" fill="#6b6b6b"/>
<rect x="451" y="877" width="74" height="6" fill="#6b6b6b"/>
<polygon points="528,871.2 544,880 528,888.8 528,884.9 536.2,880 528,875.1" fill="#6b6b6b"/>
<rect x="547" y="877" width="74" height="6" fill="#6b6b6b"/>
<polygon points="640,871.2 624,880 640,888.8 640,884.9 631.8,880 640,875.1" fill="#6b6b6b"/>
<rect x="643" y="877" width="74" height="6" fill="#6b6b6b"/>
<polygon points="720,871.2 736,880 720,888.8 720,884.9 728.2,880 720,875.1" fill="#6b6b6b"/>
<rect x="739" y="877" width="75" height="6" fill="#6b6b6b"/>
<polygon points="833.2,872 817,880 833.2,888" fill="#6b6b6b"/>
<polygon points="847,872 832.5,880 847,888 847,884.1 838.5,880 847,875.9" fill="#6b6b6b"/>
<rect x="852" y="877" width="106" height="6" fill="#6b6b6b"/>
<rect x="977" y="877" width="107" height="6" fill="#6b6b6b"/>
<polygon points="1088.8,872 1102.8,880 1088.8,888 1088.8,884.1 1096.5,880 1088.8,875.9" fill="#6b6b6b"/>
<polygon points="1102,872 1118,880 1102,888" fill="#6b6b6b"/>
<rect x="1122" y="877" width="139" height="6" fill="#6b6b6b"/>
<polygon points="1264,871.2 1280,880 1264,888.8 1264,884.9 1272.2,880 1264,875.1" fill="#6b6b6b"/>
<rect x="1283" y="877" width="135" height="6" fill="#6b6b6b"/>
<rect x="1435" y="877" width="18" height="6" fill="#6b6b6b"/>
<polygon points="1473,871.2 1457,880 1473,888.8 1473,884.9 1464.8,880 1473,875.1" fill="#6b6b6b"/>
<rect x="1475" y="877" width="42" height="6" fill="#6b6b6b"/>
<polygon points="1520,871.2 1536,880 1520,888.8 1520,884.9 1528.2,880 1520,875.1" fill="#6b6b6b"/>
<path d="M1539 880 L1601 880 L1608 887 L1608 1033 L1615 1040 L1742 1040" fill="none" stroke="#6b6b6b" stroke-width="6" stroke-linejoin="miter" stroke-miterlimit="10"/>
<path d="M792 896 L792 937 L800 945" fill="none" stroke="#6b6b6b" stroke-width="6" stroke-linejoin="miter" stroke-miterlimit="10"/>
<polygon points="795,897 795,895 791,890 786,890 789,894 789,897" fill="#6b6b6b"/>
<path d="M1297 944 L1313 944 L1320 937 L1320 896" fill="none" stroke="#6b6b6b" stroke-width="6" stroke-linejoin="miter" stroke-miterlimit="10"/>
<polygon points="1317,897 1317,895 1321,890 1326,890 1323,894 1323,897" fill="#6b6b6b"/>
<path d="M1345 1008 L1361 1008 L1368 1001 L1368 896" fill="none" stroke="#6b6b6b" stroke-width="6" stroke-linejoin="miter" stroke-miterlimit="10"/>
<polygon points="1365,897 1365,895 1369,890 1374,890 1371,894 1371,897" fill="#6b6b6b"/>
<rect x="805" y="935" width="6" height="18" fill="#6b6b6b"/>
<rect x="817" y="941" width="12" height="6" fill="#6b6b6b"/>
<polygon points="848,935.2 832,944 848,952.8 848,948.9 839.8,944 848,939.1" fill="#6b6b6b"/>
<rect x="851" y="941" width="4.5" height="6" fill="#6b6b6b"/>
<rect x="862" y="941" width="10" height="6" fill="#6b6b6b"/>
<rect x="878" y="941" width="10" height="6" fill="#6b6b6b"/>
<rect x="894" y="941" width="10" height="6" fill="#6b6b6b"/>
<rect x="910" y="941" width="2" height="6" fill="#6b6b6b"/>
<path d="M865.5 936.5 A6.5 7.5 0 0 1 878.5 936.5 Z" fill="none" stroke="#6b6b6b" stroke-width="1.7"/>
<rect x="1072" y="941" width="8" height="6" fill="#6b6b6b"/>
<rect x="1086" y="941" width="10" height="6" fill="#6b6b6b"/>
<rect x="1102" y="941" width="10" height="6" fill="#6b6b6b"/>
<rect x="1118" y="941" width="10" height="6" fill="#6b6b6b"/>
<polygon points="1136,935.2 1152,944 1136,952.8 1136,948.9 1144.2,944 1136,939.1" fill="#6b6b6b"/>
<path d="M1105.5 936.5 A6.5 7.5 0 0 1 1118.5 936.5 Z" fill="none" stroke="#6b6b6b" stroke-width="1.7"/>
<rect x="1072" y="1005" width="8" height="6" fill="#6b6b6b"/>
<rect x="1086" y="1005" width="10" height="6" fill="#6b6b6b"/>
<rect x="1102" y="1005" width="10" height="6" fill="#6b6b6b"/>
<rect x="1118" y="1005" width="10" height="6" fill="#6b6b6b"/>
<polygon points="1136,999.2 1152,1008 1136,1016.8 1136,1012.9 1144.2,1008 1136,1003.1" fill="#6b6b6b"/>
<path d="M1105.5 1000.5 A6.5 7.5 0 0 1 1118.5 1000.5 Z" fill="none" stroke="#6b6b6b" stroke-width="1.7"/>
<rect x="1072" y="1037" width="8" height="6" fill="#6b6b6b"/>
<rect x="1086" y="1037" width="10" height="6" fill="#6b6b6b"/>
<rect x="1102" y="1037" width="10" height="6" fill="#6b6b6b"/>
<rect x="1118" y="1037" width="10" height="6" fill="#6b6b6b"/>
<polygon points="1136,1031.2 1152,1040 1136,1048.8 1136,1044.9 1144.2,1040 1136,1035.1" fill="#6b6b6b"/>
<path d="M1105.5 1032.5 A6.5 7.5 0 0 1 1118.5 1032.5 Z" fill="none" stroke="#6b6b6b" stroke-width="1.7"/>
<rect x="1072" y="973" width="1" height="6" fill="#6b6b6b"/>
<rect x="1078" y="973" width="10" height="6" fill="#6b6b6b"/>
<rect x="1094" y="973" width="10" height="6" fill="#6b6b6b"/>
<rect x="1110" y="973" width="10" height="6" fill="#6b6b6b"/>
<rect x="1126" y="973" width="7" height="6" fill="#6b6b6b"/>
<polygon points="1136,967.2 1152,976 1136,984.8 1136,980.9 1144.2,976 1136,971.1" fill="#6b6b6b"/>
<path d="M1105.5 968.5 A6.5 7.5 0 0 1 1118.5 968.5 Z" fill="none" stroke="#6b6b6b" stroke-width="1.7"/>
<rect x="1155" y="941" width="124" height="6" fill="#6b6b6b"/>
<rect x="1285" y="935" width="6" height="18" fill="#6b6b6b"/>
<path d="M1155 976 L1233 976 L1240 969 L1240 962" fill="none" stroke="#6b6b6b" stroke-width="6" stroke-linejoin="miter" stroke-miterlimit="10"/>
<polygon points="1237,963 1237,961 1241,956 1246,956 1243,960 1243,963" fill="#6b6b6b"/>
<path d="M1188 989 L1192 989 L1197 996 L1193 996 Z" fill="none" stroke="#6b6b6b" stroke-width="4"/>
<rect x="1155" y="1005" width="172" height="6" fill="#6b6b6b"/>
<rect x="1333" y="999" width="6" height="18" fill="#6b6b6b"/>
<path d="M1155 1040 L1297 1040 L1304 1033 L1304 1025" fill="none" stroke="#6b6b6b" stroke-width="6" stroke-linejoin="miter" stroke-miterlimit="10"/>
<polygon points="1301,1026 1301,1024 1305,1019 1310,1019 1307,1023 1307,1026" fill="#6b6b6b"/>
<polygon points="1760.7,936 1744.5,944 1760.7,952" fill="#6b6b6b"/>
<polygon points="1774.5,936 1760,944 1774.5,952 1774.5,948.1 1766,944 1774.5,939.9" fill="#6b6b6b"/>
<rect x="1780" y="941" width="46" height="6" fill="#6b6b6b"/>
<rect x="1838" y="941" width="47" height="6" fill="#6b6b6b"/>
<polygon points="1888,936 1904,944 1888,952" fill="#6b6b6b"/>
<polygon points="1760.7,1032 1744.5,1040 1760.7,1048" fill="#6b6b6b"/>
<polygon points="1774.5,1032 1760,1040 1774.5,1048 1774.5,1044.1 1766,1040 1774.5,1035.9" fill="#6b6b6b"/>
<rect x="1780" y="1037" width="46" height="6" fill="#6b6b6b"/>
<rect x="1838" y="1037" width="47" height="6" fill="#6b6b6b"/>
<polygon points="1888,1032 1904,1040 1888,1048" fill="#6b6b6b"/>
<text class="l" x="363" y="349" fill="#e6e6e6" font-size="15" textLength="25.1" lengthAdjust="spacingAndGlyphs">Wk11</text>
<text class="l" x="402" y="354" fill="#00b0b6" font-size="15" textLength="12.2" lengthAdjust="spacingAndGlyphs">14</text>
<text class="l" x="491" y="413" fill="#e6e6e6" font-size="15" textLength="25.1" lengthAdjust="spacingAndGlyphs">Wk14</text>
<text class="l" x="530" y="418" fill="#00b0b6" font-size="15" textLength="12.2" lengthAdjust="spacingAndGlyphs">25</text>
<text class="l" x="491" y="477" fill="#e6e6e6" font-size="15" textLength="25.1" lengthAdjust="spacingAndGlyphs">Wk13</text>
<text class="l" x="530" y="482" fill="#00b0b6" font-size="15" textLength="12.2" lengthAdjust="spacingAndGlyphs">24</text>
<text class="l" x="491" y="541" fill="#e6e6e6" font-size="15" textLength="25.1" lengthAdjust="spacingAndGlyphs">Wk12</text>
<text class="l" x="530" y="546" fill="#00b0b6" font-size="15" textLength="12.2" lengthAdjust="spacingAndGlyphs">23</text>
<text class="l" x="463" y="518" fill="#e6e6e6" font-size="15" textLength="18.65" lengthAdjust="spacingAndGlyphs">244</text>
<text class="l" x="414" y="582" fill="#e6e6e6" font-size="15" textLength="18.65" lengthAdjust="spacingAndGlyphs">243</text>
<text class="l" x="318" y="646" fill="#e6e6e6" font-size="15" textLength="18.65" lengthAdjust="spacingAndGlyphs">241</text>
<text class="l" x="367" y="646" fill="#e6e6e6" font-size="15" textLength="18.65" lengthAdjust="spacingAndGlyphs">242</text>
<text class="l" x="273" y="648" fill="#00b0b6" font-size="15" textLength="12.2" lengthAdjust="spacingAndGlyphs">11</text>
<text class="l" x="562" y="672" fill="#e6e6e6" font-size="15" textLength="12.2" lengthAdjust="spacingAndGlyphs">12</text>
<text class="l" x="610" y="674" fill="#00b0b6" font-size="15" textLength="12.2" lengthAdjust="spacingAndGlyphs">10</text>
<text class="l" x="463" y="712" fill="#e6c000" font-size="15" textLength="18.65" lengthAdjust="spacingAndGlyphs">D30</text>
<text class="l" x="674" y="712" fill="#00b0b6" font-size="15" textLength="12.2" lengthAdjust="spacingAndGlyphs">12</text>
<text class="l" x="357" y="737" fill="#e6e6e6" font-size="15" textLength="5.75" lengthAdjust="spacingAndGlyphs">3</text>
<text class="l" x="405" y="738" fill="#00b0b6" font-size="15" textLength="5.75" lengthAdjust="spacingAndGlyphs">5</text>
<text class="l" x="501" y="737" fill="#e6e6e6" font-size="15" textLength="5.75" lengthAdjust="spacingAndGlyphs">9</text>
<text class="l" x="293" y="776" fill="#00b0b6" font-size="15" textLength="5.75" lengthAdjust="spacingAndGlyphs">2</text>
<text class="l" x="469" y="776" fill="#00b0b6" font-size="15" textLength="5.75" lengthAdjust="spacingAndGlyphs">7</text>
<text class="l" x="562" y="775" fill="#e6e6e6" font-size="15" textLength="12.2" lengthAdjust="spacingAndGlyphs">10</text>
<text class="l" x="405" y="801" fill="#e6e6e6" font-size="15" textLength="5.75" lengthAdjust="spacingAndGlyphs">6</text>
<text class="l" x="565" y="802" fill="#e6e6e6" font-size="15" textLength="5.75" lengthAdjust="spacingAndGlyphs">8</text>
<text class="l" x="325" y="840" fill="#00b0b6" font-size="15" textLength="5.75" lengthAdjust="spacingAndGlyphs">3</text>
<text class="l" x="357" y="838" fill="#e6e6e6" font-size="15" textLength="5.75" lengthAdjust="spacingAndGlyphs">5</text>
<text class="l" x="501" y="838" fill="#e6e6e6" font-size="15" textLength="5.75" lengthAdjust="spacingAndGlyphs">7</text>
<text class="l" x="437" y="866" fill="#00b0b6" font-size="15" textLength="5.75" lengthAdjust="spacingAndGlyphs">6</text>
<text class="l" x="629" y="866" fill="#00b0b6" font-size="15" textLength="5.75" lengthAdjust="spacingAndGlyphs">9</text>
<text class="l" x="405" y="902" fill="#e6e6e6" font-size="15" textLength="5.75" lengthAdjust="spacingAndGlyphs">4</text>
<text class="l" x="533" y="904" fill="#00b0b6" font-size="15" textLength="5.75" lengthAdjust="spacingAndGlyphs">8</text>
<text class="l" x="561" y="902" fill="#e6e6e6" font-size="15" textLength="12.2" lengthAdjust="spacingAndGlyphs">11</text>
<text class="l" x="325" y="906" fill="#00b0b6" font-size="15" textLength="5.75" lengthAdjust="spacingAndGlyphs">4</text>
<text class="l" x="183" y="728" fill="#e6c000" font-size="15" textLength="12.2" lengthAdjust="spacingAndGlyphs">2Z</text>
<text class="l" x="59" y="777" fill="#e6c000" font-size="15" textLength="25.1" lengthAdjust="spacingAndGlyphs">ToA2</text>
<text class="l" x="210" y="777" fill="#e6c000" font-size="15" textLength="12.2" lengthAdjust="spacingAndGlyphs">A2</text>
<text class="l" x="183" y="792" fill="#e6c000" font-size="15" textLength="12.2" lengthAdjust="spacingAndGlyphs">1Z</text>
<text class="l" x="60" y="840" fill="#e6c000" font-size="15" textLength="25.1" lengthAdjust="spacingAndGlyphs">ToA1</text>
<text class="l" x="879" y="226" fill="#e6c000" font-size="15" textLength="18.65" lengthAdjust="spacingAndGlyphs">E32</text>
<text class="l" x="879" y="290" fill="#e6c000" font-size="15" textLength="18.65" lengthAdjust="spacingAndGlyphs">E30</text>
<text class="l" x="834" y="326" fill="#e6e6e6" font-size="15" textLength="12.2" lengthAdjust="spacingAndGlyphs">29</text>
<text class="l" x="846" y="349" fill="#e6e6e6" font-size="15" textLength="18.65" lengthAdjust="spacingAndGlyphs">Wk3</text>
<text class="l" x="882" y="354" fill="#00b0b6" font-size="15" textLength="12.2" lengthAdjust="spacingAndGlyphs">22</text>
<text class="l" x="954" y="307" fill="#e6e6e6" font-size="15" textLength="12.2" lengthAdjust="spacingAndGlyphs">30</text>
<text class="l" x="954" y="371" fill="#e6e6e6" font-size="15" textLength="12.2" lengthAdjust="spacingAndGlyphs">28</text>
<text class="l" x="1128" y="226" fill="#e6c000" font-size="15" textLength="31.55" lengthAdjust="spacingAndGlyphs">ToE32</text>
<text class="l" x="1090" y="290" fill="#e6e6e6" font-size="15" textLength="12.2" lengthAdjust="spacingAndGlyphs">52</text>
<text class="l" x="1138" y="291" fill="#00b0b6" font-size="15" textLength="12.2" lengthAdjust="spacingAndGlyphs">42</text>
<text class="l" x="1023" y="328" fill="#e6c000" font-size="15" textLength="18.65" lengthAdjust="spacingAndGlyphs">F30</text>
<text class="l" x="1218" y="328" fill="#00b0b6" font-size="15" textLength="12.2" lengthAdjust="spacingAndGlyphs">47</text>
<text class="l" x="1051" y="349" fill="#e6e6e6" font-size="15" textLength="25.1" lengthAdjust="spacingAndGlyphs">Wk31</text>
<text class="l" x="1026" y="393" fill="#00b0b6" font-size="15" textLength="12.2" lengthAdjust="spacingAndGlyphs">41</text>
<text class="l" x="1089" y="391" fill="#e6e6e6" font-size="15" textLength="12.2" lengthAdjust="spacingAndGlyphs">54</text>
<text class="l" x="1386" y="243" fill="#e6e6e6" font-size="15" textLength="12.2" lengthAdjust="spacingAndGlyphs">32</text>
<text class="l" x="1266" y="290" fill="#e6e6e6" font-size="15" textLength="12.2" lengthAdjust="spacingAndGlyphs">66</text>
<text class="l" x="1627" y="290" fill="#e6c000" font-size="15" textLength="25.1" lengthAdjust="spacingAndGlyphs">H154</text>
<text class="l" x="1759" y="307" fill="#e6e6e6" font-size="15" textLength="18.65" lengthAdjust="spacingAndGlyphs">154</text>
<text class="l" x="1887" y="264" fill="#e6c000" font-size="15" textLength="18.65" lengthAdjust="spacingAndGlyphs">J32</text>
<text class="l" x="1883" y="328" fill="#e6c000" font-size="15" textLength="25.1" lengthAdjust="spacingAndGlyphs">J154</text>
<text class="l" x="716" y="417" fill="#e6e6e6" font-size="15" textLength="25.1" lengthAdjust="spacingAndGlyphs">23cd</text>
<text class="l" x="802" y="390" fill="#e6e6e6" font-size="15" textLength="12.2" lengthAdjust="spacingAndGlyphs">26</text>
<text class="l" x="812" y="424" fill="#e6e6e6" font-size="15" textLength="12.2" lengthAdjust="spacingAndGlyphs">24</text>
<text class="l" x="764" y="454" fill="#e6e6e6" font-size="15" textLength="25.1" lengthAdjust="spacingAndGlyphs">23ab</text>
<text class="l" x="844" y="456" fill="#e6e6e6" font-size="15" textLength="12.2" lengthAdjust="spacingAndGlyphs">28</text>
<text class="l" x="869" y="488" fill="#e6e6e6" font-size="15" textLength="12.2" lengthAdjust="spacingAndGlyphs">30</text>
<text class="l" x="896" y="418" fill="#e6e6e6" font-size="15" textLength="18.65" lengthAdjust="spacingAndGlyphs">Wk2</text>
<text class="l" x="924" y="423" fill="#00b0b6" font-size="15" textLength="12.2" lengthAdjust="spacingAndGlyphs">21</text>
<text class="l" x="896" y="451" fill="#e6e6e6" font-size="15" textLength="18.65" lengthAdjust="spacingAndGlyphs">Wk6</text>
<text class="l" x="924" y="456" fill="#00b0b6" font-size="15" textLength="12.2" lengthAdjust="spacingAndGlyphs">28</text>
<text class="l" x="928" y="484" fill="#e6e6e6" font-size="15" textLength="18.65" lengthAdjust="spacingAndGlyphs">Wk8</text>
<text class="l" x="956" y="488" fill="#00b0b6" font-size="15" textLength="12.2" lengthAdjust="spacingAndGlyphs">30</text>
<text class="l" x="928" y="516" fill="#e6e6e6" font-size="15" textLength="18.65" lengthAdjust="spacingAndGlyphs">Wk7</text>
<text class="l" x="956" y="520" fill="#00b0b6" font-size="15" textLength="12.2" lengthAdjust="spacingAndGlyphs">29</text>
<text class="l" x="1000" y="435" fill="#e6e6e6" font-size="15" textLength="12.2" lengthAdjust="spacingAndGlyphs">26</text>
<text class="l" x="1002" y="467" fill="#e6e6e6" font-size="15" textLength="12.2" lengthAdjust="spacingAndGlyphs">24</text>
<text class="l" x="1004" y="499" fill="#e6e6e6" font-size="15" textLength="12.2" lengthAdjust="spacingAndGlyphs">22</text>
<text class="l" x="1005" y="531" fill="#e6e6e6" font-size="15" textLength="12.2" lengthAdjust="spacingAndGlyphs">20</text>
<text class="l" x="1083" y="414" fill="#e6e6e6" font-size="15" textLength="25.1" lengthAdjust="spacingAndGlyphs">Wk32</text>
<text class="l" x="1140" y="417" fill="#e6e6e6" font-size="15" textLength="12.2" lengthAdjust="spacingAndGlyphs">58</text>
<text class="l" x="1057" y="444" fill="#00b0b6" font-size="15" textLength="12.2" lengthAdjust="spacingAndGlyphs">43</text>
<text class="l" x="1131" y="449" fill="#e6e6e6" font-size="15" textLength="25.1" lengthAdjust="spacingAndGlyphs">Wk33</text>
<text class="l" x="1089" y="476" fill="#00b0b6" font-size="15" textLength="12.2" lengthAdjust="spacingAndGlyphs">44</text>
<text class="l" x="1115" y="481" fill="#e6e6e6" font-size="15" textLength="25.1" lengthAdjust="spacingAndGlyphs">Wk35</text>
<text class="l" x="1170" y="486" fill="#e6e6e6" font-size="15" textLength="12.2" lengthAdjust="spacingAndGlyphs">62</text>
<text class="l" x="1089" y="508" fill="#00b0b6" font-size="15" textLength="12.2" lengthAdjust="spacingAndGlyphs">45</text>
<text class="l" x="1089" y="540" fill="#00b0b6" font-size="15" textLength="12.2" lengthAdjust="spacingAndGlyphs">46</text>
<text class="l" x="1110" y="552" fill="#e6e6e6" font-size="15" textLength="25.1" lengthAdjust="spacingAndGlyphs">Wk36</text>
<text class="l" x="1154" y="552" fill="#e6e6e6" font-size="15" textLength="12.2" lengthAdjust="spacingAndGlyphs">64</text>
<text class="l" x="1202" y="552" fill="#e6e6e6" font-size="15" textLength="12.2" lengthAdjust="spacingAndGlyphs">67</text>
<text class="l" x="1308" y="385" fill="#e6e6e6" font-size="15" textLength="25.1" lengthAdjust="spacingAndGlyphs">74ab</text>
<text class="l" x="1378" y="385" fill="#e6e6e6" font-size="15" textLength="12.2" lengthAdjust="spacingAndGlyphs">81</text>
<text class="l" x="1260" y="422" fill="#e6e6e6" font-size="15" textLength="25.1" lengthAdjust="spacingAndGlyphs">74cd</text>
<text class="l" x="1627" y="385" fill="#e6c000" font-size="15" textLength="25.1" lengthAdjust="spacingAndGlyphs">H152</text>
<text class="l" x="1759" y="403" fill="#e6e6e6" font-size="15" textLength="18.65" lengthAdjust="spacingAndGlyphs">152</text>
<text class="l" x="1883" y="424" fill="#e6c000" font-size="15" textLength="25.1" lengthAdjust="spacingAndGlyphs">J152</text>
<text class="l" x="1627" y="481" fill="#e6c000" font-size="15" textLength="25.1" lengthAdjust="spacingAndGlyphs">H151</text>
<text class="l" x="1759" y="499" fill="#e6e6e6" font-size="15" textLength="18.65" lengthAdjust="spacingAndGlyphs">151</text>
<text class="l" x="1883" y="520" fill="#e6c000" font-size="15" textLength="25.1" lengthAdjust="spacingAndGlyphs">J151</text>
<text class="l" x="894" y="578" fill="#e6c000" font-size="15" textLength="18.65" lengthAdjust="spacingAndGlyphs">E18</text>
<text class="l" x="933" y="578" fill="#e6c000" font-size="15" textLength="38" lengthAdjust="spacingAndGlyphs">ISpE18</text>
<text class="l" x="1005" y="595" fill="#e6e6e6" font-size="15" textLength="12.2" lengthAdjust="spacingAndGlyphs">18</text>
<text class="l" x="1087" y="616" fill="#e6c000" font-size="15" textLength="18.65" lengthAdjust="spacingAndGlyphs">F18</text>
<text class="l" x="1234" y="615" fill="#e6e6e6" font-size="15" textLength="12.2" lengthAdjust="spacingAndGlyphs">72</text>
<text class="l" x="926" y="641" fill="#e6e6e6" font-size="15" textLength="18.65" lengthAdjust="spacingAndGlyphs">Wk5</text>
<text class="l" x="962" y="648" fill="#00b0b6" font-size="15" textLength="12.2" lengthAdjust="spacingAndGlyphs">27</text>
<text class="l" x="962" y="680" fill="#00b0b6" font-size="15" textLength="12.2" lengthAdjust="spacingAndGlyphs">26</text>
<text class="l" x="754" y="674" fill="#00b0b6" font-size="15" textLength="12.2" lengthAdjust="spacingAndGlyphs">16</text>
<text class="l" x="722" y="710" fill="#e6e6e6" font-size="15" textLength="12.2" lengthAdjust="spacingAndGlyphs">22</text>
<text class="l" x="818" y="712" fill="#00b0b6" font-size="15" textLength="12.2" lengthAdjust="spacingAndGlyphs">17</text>
<text class="l" x="850" y="710" fill="#e6e6e6" font-size="15" textLength="12.2" lengthAdjust="spacingAndGlyphs">25</text>
<text class="l" x="898" y="710" fill="#e6e6e6" font-size="15" textLength="12.2" lengthAdjust="spacingAndGlyphs">27</text>
<text class="l" x="926" y="713" fill="#e6e6e6" font-size="15" textLength="18.65" lengthAdjust="spacingAndGlyphs">Wk4</text>
<text class="l" x="1034" y="659" fill="#e6e6e6" font-size="15" textLength="12.2" lengthAdjust="spacingAndGlyphs">16</text>
<text class="l" x="1034" y="691" fill="#e6e6e6" font-size="15" textLength="12.2" lengthAdjust="spacingAndGlyphs">14</text>
<text class="l" x="1163" y="637" fill="#e6e6e6" font-size="15" textLength="25.1" lengthAdjust="spacingAndGlyphs">Wk34</text>
<text class="l" x="1106" y="674" fill="#00b0b6" font-size="15" textLength="12.2" lengthAdjust="spacingAndGlyphs">48</text>
<text class="l" x="1106" y="706" fill="#00b0b6" font-size="15" textLength="12.2" lengthAdjust="spacingAndGlyphs">49</text>
<text class="l" x="1158" y="710" fill="#e6e6e6" font-size="15" textLength="25.1" lengthAdjust="spacingAndGlyphs">Wk37</text>
<text class="l" x="1202" y="710" fill="#e6e6e6" font-size="15" textLength="12.2" lengthAdjust="spacingAndGlyphs">73</text>
<text class="l" x="1330" y="673" fill="#e6e6e6" font-size="15" textLength="12.2" lengthAdjust="spacingAndGlyphs">76</text>
<text class="l" x="1506" y="673" fill="#e6e6e6" font-size="15" textLength="12.2" lengthAdjust="spacingAndGlyphs">77</text>
<text class="l" x="1697" y="608" fill="#e6e6e6" font-size="15" textLength="12.2" lengthAdjust="spacingAndGlyphs">82</text>
<text class="l" x="1762" y="610" fill="#e6c000" font-size="15" textLength="12.2" lengthAdjust="spacingAndGlyphs">G8</text>
<text class="l" x="1829" y="627" fill="#e6e6e6" font-size="15" textLength="5.75" lengthAdjust="spacingAndGlyphs">8</text>
<text class="l" x="1890" y="648" fill="#e6c000" font-size="15" textLength="12.2" lengthAdjust="spacingAndGlyphs">K8</text>
<text class="l" x="1762" y="674" fill="#e6c000" font-size="15" textLength="12.2" lengthAdjust="spacingAndGlyphs">G6</text>
<text class="l" x="1829" y="691" fill="#e6e6e6" font-size="15" textLength="5.75" lengthAdjust="spacingAndGlyphs">6</text>
<text class="l" x="1890" y="712" fill="#e6c000" font-size="15" textLength="12.2" lengthAdjust="spacingAndGlyphs">K6</text>
<text class="l" x="1698" y="712" fill="#e6e6e6" font-size="15" textLength="12.2" lengthAdjust="spacingAndGlyphs">78</text>
<text class="l" x="732" y="738" fill="#e6c000" font-size="15" textLength="25.1" lengthAdjust="spacingAndGlyphs">E102</text>
<text class="l" x="818" y="738" fill="#e6c000" font-size="15" textLength="44.45" lengthAdjust="spacingAndGlyphs">ISpE102</text>
<text class="l" x="732" y="802" fill="#e6c000" font-size="15" textLength="25.1" lengthAdjust="spacingAndGlyphs">E101</text>
<text class="l" x="818" y="802" fill="#e6c000" font-size="15" textLength="44.45" lengthAdjust="spacingAndGlyphs">ISpE101</text>
<text class="l" x="786" y="866" fill="#e6e6e6" font-size="15" textLength="12.2" lengthAdjust="spacingAndGlyphs">21</text>
<text class="l" x="830" y="866" fill="#e6c000" font-size="15" textLength="18.65" lengthAdjust="spacingAndGlyphs">E13</text>
<text class="l" x="722" y="904" fill="#00b0b6" font-size="15" textLength="12.2" lengthAdjust="spacingAndGlyphs">13</text>
<text class="l" x="958" y="755" fill="#e6e6e6" font-size="15" textLength="18.65" lengthAdjust="spacingAndGlyphs">102</text>
<text class="l" x="958" y="819" fill="#e6e6e6" font-size="15" textLength="18.65" lengthAdjust="spacingAndGlyphs">101</text>
<text class="l" x="962" y="883" fill="#e6e6e6" font-size="15" textLength="12.2" lengthAdjust="spacingAndGlyphs">13</text>
<text class="l" x="1084" y="776" fill="#e6c000" font-size="15" textLength="25.1" lengthAdjust="spacingAndGlyphs">F102</text>
<text class="l" x="1084" y="840" fill="#e6c000" font-size="15" textLength="25.1" lengthAdjust="spacingAndGlyphs">F101</text>
<text class="l" x="1087" y="904" fill="#e6c000" font-size="15" textLength="18.65" lengthAdjust="spacingAndGlyphs">F13</text>
<text class="l" x="1186" y="737" fill="#e6e6e6" font-size="15" textLength="12.2" lengthAdjust="spacingAndGlyphs">51</text>
<text class="l" x="1218" y="738" fill="#00b0b6" font-size="15" textLength="12.2" lengthAdjust="spacingAndGlyphs">50</text>
<text class="l" x="1186" y="838" fill="#e6e6e6" font-size="15" textLength="12.2" lengthAdjust="spacingAndGlyphs">57</text>
<text class="l" x="1371" y="737" fill="#e6e6e6" font-size="15" textLength="25.1" lengthAdjust="spacingAndGlyphs">69cd</text>
<text class="l" x="1282" y="776" fill="#00b0b6" font-size="15" textLength="12.2" lengthAdjust="spacingAndGlyphs">56</text>
<text class="l" x="1330" y="774" fill="#e6e6e6" font-size="15" textLength="12.2" lengthAdjust="spacingAndGlyphs">61</text>
<text class="l" x="1419" y="774" fill="#e6e6e6" font-size="15" textLength="25.1" lengthAdjust="spacingAndGlyphs">69ab</text>
<text class="l" x="1419" y="801" fill="#e6e6e6" font-size="15" textLength="25.1" lengthAdjust="spacingAndGlyphs">68cd</text>
<text class="l" x="1378" y="838" fill="#e6e6e6" font-size="15" textLength="12.2" lengthAdjust="spacingAndGlyphs">59</text>
<text class="l" x="1467" y="838" fill="#e6e6e6" font-size="15" textLength="25.1" lengthAdjust="spacingAndGlyphs">68ab</text>
<text class="l" x="1314" y="866" fill="#e6e6e6" font-size="15" textLength="12.2" lengthAdjust="spacingAndGlyphs">60</text>
<text class="l" x="1355" y="866" fill="#e6e6e6" font-size="15" textLength="25.1" lengthAdjust="spacingAndGlyphs">65cd</text>
<text class="l" x="1458" y="866" fill="#00b0b6" font-size="15" textLength="12.2" lengthAdjust="spacingAndGlyphs">57</text>
<text class="l" x="1596" y="737" fill="#e6e6e6" font-size="15" textLength="25.1" lengthAdjust="spacingAndGlyphs">75cd</text>
<text class="l" x="1714" y="737" fill="#e6e6e6" font-size="15" textLength="12.2" lengthAdjust="spacingAndGlyphs">79</text>
<text class="l" x="1762" y="738" fill="#e6c000" font-size="15" textLength="12.2" lengthAdjust="spacingAndGlyphs">G4</text>
<text class="l" x="1829" y="755" fill="#e6e6e6" font-size="15" textLength="5.75" lengthAdjust="spacingAndGlyphs">4</text>
<text class="l" x="1890" y="776" fill="#e6c000" font-size="15" textLength="12.2" lengthAdjust="spacingAndGlyphs">K4</text>
<text class="l" x="1644" y="774" fill="#e6e6e6" font-size="15" textLength="25.1" lengthAdjust="spacingAndGlyphs">75ab</text>
<text class="l" x="1506" y="807" fill="#e6e6e6" font-size="15" textLength="12.2" lengthAdjust="spacingAndGlyphs">70</text>
<text class="l" x="1554" y="801" fill="#e6e6e6" font-size="15" textLength="12.2" lengthAdjust="spacingAndGlyphs">71</text>
<text class="l" x="1762" y="834" fill="#e6c000" font-size="15" textLength="12.2" lengthAdjust="spacingAndGlyphs">G2</text>
<text class="l" x="1829" y="851" fill="#e6e6e6" font-size="15" textLength="5.75" lengthAdjust="spacingAndGlyphs">2</text>
<text class="l" x="1890" y="872" fill="#e6c000" font-size="15" textLength="12.2" lengthAdjust="spacingAndGlyphs">K2</text>
<text class="l" x="1266" y="904" fill="#00b0b6" font-size="15" textLength="12.2" lengthAdjust="spacingAndGlyphs">51</text>
<text class="l" x="1522" y="904" fill="#00b0b6" font-size="15" textLength="12.2" lengthAdjust="spacingAndGlyphs">58</text>
<text class="l" x="1554" y="902" fill="#e6e6e6" font-size="15" textLength="12.2" lengthAdjust="spacingAndGlyphs">80</text>
<text class="l" x="1419" y="902" fill="#e6e6e6" font-size="15" textLength="25.1" lengthAdjust="spacingAndGlyphs">65ab</text>
<text class="l" x="834" y="930" fill="#00b0b6" font-size="15" textLength="12.2" lengthAdjust="spacingAndGlyphs">15</text>
<text class="l" x="798" y="970" fill="#e6e6e6" font-size="15" textLength="18.65" lengthAdjust="spacingAndGlyphs">Wk1</text>
<text class="l" x="1234" y="929" fill="#e6e6e6" font-size="15" textLength="12.2" lengthAdjust="spacingAndGlyphs">55</text>
<text class="l" x="1275" y="925" fill="#e6e6e6" font-size="15" textLength="25.1" lengthAdjust="spacingAndGlyphs">Wk21</text>
<text class="l" x="1138" y="961" fill="#00b0b6" font-size="15" textLength="12.2" lengthAdjust="spacingAndGlyphs">52</text>
<text class="l" x="1186" y="967" fill="#e6e6e6" font-size="15" textLength="12.2" lengthAdjust="spacingAndGlyphs">53</text>
<text class="l" x="1138" y="993" fill="#00b0b6" font-size="15" textLength="12.2" lengthAdjust="spacingAndGlyphs">53</text>
<text class="l" x="1298" y="993" fill="#e6e6e6" font-size="15" textLength="12.2" lengthAdjust="spacingAndGlyphs">63</text>
<text class="l" x="1323" y="989" fill="#e6e6e6" font-size="15" textLength="25.1" lengthAdjust="spacingAndGlyphs">Wk22</text>
<text class="l" x="1138" y="1025" fill="#00b0b6" font-size="15" textLength="12.2" lengthAdjust="spacingAndGlyphs">54</text>
<text class="l" x="1186" y="1024" fill="#e6e6e6" font-size="15" textLength="12.2" lengthAdjust="spacingAndGlyphs">56</text>
<text class="l" x="1138" y="1057" fill="#00b0b6" font-size="15" textLength="12.2" lengthAdjust="spacingAndGlyphs">55</text>
<text class="l" x="1762" y="930" fill="#e6c000" font-size="15" textLength="12.2" lengthAdjust="spacingAndGlyphs">G1</text>
<text class="l" x="1829" y="947" fill="#e6e6e6" font-size="15" textLength="5.75" lengthAdjust="spacingAndGlyphs">1</text>
<text class="l" x="1890" y="968" fill="#e6c000" font-size="15" textLength="12.2" lengthAdjust="spacingAndGlyphs">K1</text>
<text class="l" x="1762" y="1026" fill="#e6c000" font-size="15" textLength="12.2" lengthAdjust="spacingAndGlyphs">G3</text>
<text class="l" x="1829" y="1043" fill="#e6e6e6" font-size="15" textLength="5.75" lengthAdjust="spacingAndGlyphs">3</text>
<text class="l" x="1890" y="1064" fill="#e6c000" font-size="15" textLength="12.2" lengthAdjust="spacingAndGlyphs">K3</text>
<rect x="490" y="506.7" width="5" height="1.6" fill="#e6e6e6"/><rect x="491.7" y="505" width="1.6" height="5" fill="#e6e6e6"/>
<rect x="441" y="570.7" width="5" height="1.6" fill="#e6e6e6"/><rect x="442.7" y="569" width="1.6" height="5" fill="#e6e6e6"/>
<rect x="345" y="634.7" width="5" height="1.6" fill="#e6e6e6"/><rect x="346.7" y="633" width="1.6" height="5" fill="#e6e6e6"/>
<rect x="393" y="634.7" width="5" height="1.6" fill="#e6e6e6"/><rect x="394.7" y="633" width="1.6" height="5" fill="#e6e6e6"/>
<rect x="546" y="672.7" width="5" height="1.6" fill="#e6e6e6"/><rect x="547.7" y="671" width="1.6" height="5" fill="#e6e6e6"/>
<rect x="377" y="736.7" width="5" height="1.6" fill="#e6e6e6"/><rect x="378.7" y="735" width="1.6" height="5" fill="#e6e6e6"/>
<rect x="482" y="736.7" width="5" height="1.6" fill="#e6e6e6"/><rect x="483.7" y="735" width="1.6" height="5" fill="#e6e6e6"/>
<rect x="585" y="762.7" width="5" height="1.6" fill="#e6e6e6"/><rect x="586.7" y="761" width="1.6" height="5" fill="#e6e6e6"/>
<rect x="386" y="800.7" width="5" height="1.6" fill="#e6e6e6"/><rect x="387.7" y="799" width="1.6" height="5" fill="#e6e6e6"/>
<rect x="585" y="802.7" width="5" height="1.6" fill="#e6e6e6"/><rect x="586.7" y="801" width="1.6" height="5" fill="#e6e6e6"/>
<rect x="338" y="826.7" width="5" height="1.6" fill="#e6e6e6"/><rect x="339.7" y="825" width="1.6" height="5" fill="#e6e6e6"/>
<rect x="522" y="826.7" width="5" height="1.6" fill="#e6e6e6"/><rect x="523.7" y="825" width="1.6" height="5" fill="#e6e6e6"/>
<rect x="425" y="890.7" width="5" height="1.6" fill="#e6e6e6"/><rect x="426.7" y="889" width="1.6" height="5" fill="#e6e6e6"/>
<rect x="546" y="890.7" width="5" height="1.6" fill="#e6e6e6"/><rect x="547.7" y="889" width="1.6" height="5" fill="#e6e6e6"/>
<rect x="857" y="314.7" width="5" height="1.6" fill="#e6e6e6"/><rect x="858.7" y="313" width="1.6" height="5" fill="#e6e6e6"/>
<rect x="1113" y="288.7" width="5" height="1.6" fill="#e6e6e6"/><rect x="1114.7" y="287" width="1.6" height="5" fill="#e6e6e6"/>
<rect x="1074" y="378.7" width="5" height="1.6" fill="#e6e6e6"/><rect x="1075.7" y="377" width="1.6" height="5" fill="#e6e6e6"/>
<rect x="1289" y="288.7" width="5" height="1.6" fill="#e6e6e6"/><rect x="1290.7" y="287" width="1.6" height="5" fill="#e6e6e6"/>
<rect x="706" y="415.7" width="5" height="1.6" fill="#e6e6e6"/><rect x="707.7" y="414" width="1.6" height="5" fill="#e6e6e6"/>
<rect x="825" y="378.7" width="5" height="1.6" fill="#e6e6e6"/><rect x="826.7" y="377" width="1.6" height="5" fill="#e6e6e6"/>
<rect x="833" y="420.7" width="5" height="1.6" fill="#e6e6e6"/><rect x="834.7" y="419" width="1.6" height="5" fill="#e6e6e6"/>
<rect x="793" y="442.7" width="5" height="1.6" fill="#e6e6e6"/><rect x="794.7" y="441" width="1.6" height="5" fill="#e6e6e6"/>
<rect x="865" y="450.7" width="5" height="1.6" fill="#e6e6e6"/><rect x="866.7" y="449" width="1.6" height="5" fill="#e6e6e6"/>
<rect x="897" y="482.7" width="5" height="1.6" fill="#e6e6e6"/><rect x="898.7" y="481" width="1.6" height="5" fill="#e6e6e6"/>
<rect x="1106" y="442.7" width="5" height="1.6" fill="#e6e6e6"/><rect x="1107.7" y="441" width="1.6" height="5" fill="#e6e6e6"/>
<rect x="1154" y="474.7" width="5" height="1.6" fill="#e6e6e6"/><rect x="1155.7" y="473" width="1.6" height="5" fill="#e6e6e6"/>
<rect x="1138" y="538.7" width="5" height="1.6" fill="#e6e6e6"/><rect x="1139.7" y="537" width="1.6" height="5" fill="#e6e6e6"/>
<rect x="1186" y="538.7" width="5" height="1.6" fill="#e6e6e6"/><rect x="1187.7" y="537" width="1.6" height="5" fill="#e6e6e6"/>
<rect x="1337" y="383.7" width="5" height="1.6" fill="#e6e6e6"/><rect x="1338.7" y="382" width="1.6" height="5" fill="#e6e6e6"/>
<rect x="1250" y="409.7" width="5" height="1.6" fill="#e6e6e6"/><rect x="1251.7" y="408" width="1.6" height="5" fill="#e6e6e6"/>
<rect x="1218" y="602.7" width="5" height="1.6" fill="#e6e6e6"/><rect x="1219.7" y="601" width="1.6" height="5" fill="#e6e6e6"/>
<rect x="745" y="698.7" width="5" height="1.6" fill="#e6e6e6"/><rect x="746.7" y="697" width="1.6" height="5" fill="#e6e6e6"/>
<rect x="873" y="698.7" width="5" height="1.6" fill="#e6e6e6"/><rect x="874.7" y="697" width="1.6" height="5" fill="#e6e6e6"/>
<rect x="921" y="698.7" width="5" height="1.6" fill="#e6e6e6"/><rect x="922.7" y="697" width="1.6" height="5" fill="#e6e6e6"/>
<rect x="1186" y="698.7" width="5" height="1.6" fill="#e6e6e6"/><rect x="1187.7" y="697" width="1.6" height="5" fill="#e6e6e6"/>
<rect x="1314" y="671.7" width="5" height="1.6" fill="#e6e6e6"/><rect x="1315.7" y="670" width="1.6" height="5" fill="#e6e6e6"/>
<rect x="1490" y="671.7" width="5" height="1.6" fill="#e6e6e6"/><rect x="1491.7" y="670" width="1.6" height="5" fill="#e6e6e6"/>
<rect x="1683" y="608.7" width="5" height="1.6" fill="#e6e6e6"/><rect x="1684.7" y="607" width="1.6" height="5" fill="#e6e6e6"/>
<rect x="1721" y="698.7" width="5" height="1.6" fill="#e6e6e6"/><rect x="1722.7" y="697" width="1.6" height="5" fill="#e6e6e6"/>
<rect x="810" y="863.7" width="5" height="1.6" fill="#e6e6e6"/><rect x="811.7" y="862" width="1.6" height="5" fill="#e6e6e6"/>
<rect x="1209" y="735.7" width="5" height="1.6" fill="#e6e6e6"/><rect x="1210.7" y="734" width="1.6" height="5" fill="#e6e6e6"/>
<rect x="1170" y="826.7" width="5" height="1.6" fill="#e6e6e6"/><rect x="1171.7" y="825" width="1.6" height="5" fill="#e6e6e6"/>
<rect x="1362" y="735.7" width="5" height="1.6" fill="#e6e6e6"/><rect x="1363.7" y="734" width="1.6" height="5" fill="#e6e6e6"/>
<rect x="1353" y="762.7" width="5" height="1.6" fill="#e6e6e6"/><rect x="1354.7" y="761" width="1.6" height="5" fill="#e6e6e6"/>
<rect x="1450" y="762.7" width="5" height="1.6" fill="#e6e6e6"/><rect x="1451.7" y="761" width="1.6" height="5" fill="#e6e6e6"/>
<rect x="1402" y="826.7" width="5" height="1.6" fill="#e6e6e6"/><rect x="1403.7" y="825" width="1.6" height="5" fill="#e6e6e6"/>
<rect x="1416" y="828.7" width="5" height="1.6" fill="#e6e6e6"/><rect x="1417.7" y="827" width="1.6" height="5" fill="#e6e6e6"/>
<rect x="1497" y="826.7" width="5" height="1.6" fill="#e6e6e6"/><rect x="1498.7" y="825" width="1.6" height="5" fill="#e6e6e6"/>
<rect x="1299" y="863.7" width="5" height="1.6" fill="#e6e6e6"/><rect x="1300.7" y="862" width="1.6" height="5" fill="#e6e6e6"/>
<rect x="1346" y="863.7" width="5" height="1.6" fill="#e6e6e6"/><rect x="1347.7" y="862" width="1.6" height="5" fill="#e6e6e6"/>
<rect x="1587" y="736.7" width="5" height="1.6" fill="#e6e6e6"/><rect x="1588.7" y="735" width="1.6" height="5" fill="#e6e6e6"/>
<rect x="1737" y="736.7" width="5" height="1.6" fill="#e6e6e6"/><rect x="1738.7" y="735" width="1.6" height="5" fill="#e6e6e6"/>
<rect x="1673" y="762.7" width="5" height="1.6" fill="#e6e6e6"/><rect x="1674.7" y="761" width="1.6" height="5" fill="#e6e6e6"/>
<rect x="1529" y="794.7" width="5" height="1.6" fill="#e6e6e6"/><rect x="1530.7" y="793" width="1.6" height="5" fill="#e6e6e6"/>
<rect x="1577" y="802.7" width="5" height="1.6" fill="#e6e6e6"/><rect x="1578.7" y="801" width="1.6" height="5" fill="#e6e6e6"/>
<rect x="1539" y="890.7" width="5" height="1.6" fill="#e6e6e6"/><rect x="1540.7" y="889" width="1.6" height="5" fill="#e6e6e6"/>
<rect x="1449" y="890.7" width="5" height="1.6" fill="#e6e6e6"/><rect x="1450.7" y="889" width="1.6" height="5" fill="#e6e6e6"/>
<rect x="1218" y="927.7" width="5" height="1.6" fill="#e6e6e6"/><rect x="1219.7" y="926" width="1.6" height="5" fill="#e6e6e6"/>
<rect x="1209" y="963.7" width="5" height="1.6" fill="#e6e6e6"/><rect x="1210.7" y="962" width="1.6" height="5" fill="#e6e6e6"/>
<rect x="1282" y="991.7" width="5" height="1.6" fill="#e6e6e6"/><rect x="1283.7" y="990" width="1.6" height="5" fill="#e6e6e6"/>
<rect x="1170" y="1013.7" width="5" height="1.6" fill="#e6e6e6"/><rect x="1171.7" y="1012" width="1.6" height="5" fill="#e6e6e6"/>
<rect x="1393" y="420.7" width="5" height="1.6" fill="#e6e6e6"/><rect x="1394.7" y="419" width="1.6" height="5" fill="#e6e6e6"/>
<text class="l" x="104" y="744" fill="#e6e6e6" font-size="12" textLength="21.7" lengthAdjust="spacingAndGlyphs">it2Z</text>
<text class="l" x="93" y="808" fill="#e6e6e6" font-size="12" textLength="21.7" lengthAdjust="spacingAndGlyphs">it1Z</text>
<text class="l" x="100" y="844" fill="#e6e6e6" font-size="14.5" textLength="116.3" lengthAdjust="spacingAndGlyphs">Ł. Żabieniec LK 15</text>
<rect x="209" y="828" width="14" height="13" fill="#000"/>
<text class="l" x="210" y="840" fill="#e6c000" font-size="15" textLength="12.2" lengthAdjust="spacingAndGlyphs">A1</text>
<rect x="1672" y="320" width="2" height="58" fill="#c8c8c8"/>
<rect x="1848" y="320" width="2" height="58" fill="#c8c8c8"/>
<rect x="1672" y="320" width="178" height="2" fill="#c8c8c8"/>
<rect x="1672" y="323.5" width="178" height="2" fill="#c8c8c8"/>
<rect x="1672" y="376" width="178" height="2" fill="#c8c8c8"/>
<rect x="1672" y="372.5" width="178" height="2" fill="#c8c8c8"/>
<text class="l" x="1737" y="337" fill="#e6e6e6" font-size="15" textLength="44.45" lengthAdjust="spacingAndGlyphs">Peron 5</text>
<rect x="1656" y="512" width="2" height="32" fill="#c8c8c8"/>
<rect x="1832" y="512" width="2" height="32" fill="#c8c8c8"/>
<rect x="1656" y="512" width="178" height="2" fill="#c8c8c8"/>
<rect x="1656" y="515.5" width="178" height="2" fill="#c8c8c8"/>
<text class="l" x="1721" y="533" fill="#e6e6e6" font-size="15" textLength="44.45" lengthAdjust="spacingAndGlyphs">Peron 4</text>
<rect x="1784" y="570" width="2" height="33" fill="#c8c8c8"/>
<rect x="1880" y="570" width="2" height="33" fill="#c8c8c8"/>
<rect x="1784" y="601" width="98" height="2" fill="#c8c8c8"/>
<rect x="1784" y="597.5" width="98" height="2" fill="#c8c8c8"/>
<text class="l" x="1810" y="594" fill="#e6e6e6" font-size="15" textLength="44.45" lengthAdjust="spacingAndGlyphs">Peron 1</text>
<rect x="1784" y="768" width="2" height="58" fill="#c8c8c8"/>
<rect x="1880" y="768" width="2" height="58" fill="#c8c8c8"/>
<rect x="1784" y="768" width="98" height="2" fill="#c8c8c8"/>
<rect x="1784" y="771.5" width="98" height="2" fill="#c8c8c8"/>
<rect x="1784" y="824" width="98" height="2" fill="#c8c8c8"/>
<rect x="1784" y="820.5" width="98" height="2" fill="#c8c8c8"/>
<text class="l" x="1810" y="801" fill="#e6e6e6" font-size="15" textLength="44.45" lengthAdjust="spacingAndGlyphs">Peron 2</text>
<rect x="1784" y="960" width="2" height="58" fill="#c8c8c8"/>
<rect x="1880" y="960" width="2" height="58" fill="#c8c8c8"/>
<rect x="1784" y="960" width="98" height="2" fill="#c8c8c8"/>
<rect x="1784" y="963.5" width="98" height="2" fill="#c8c8c8"/>
<rect x="1784" y="1016" width="98" height="2" fill="#c8c8c8"/>
<rect x="1784" y="1012.5" width="98" height="2" fill="#c8c8c8"/>
<text class="l" x="1810" y="993" fill="#e6e6e6" font-size="15" textLength="44.45" lengthAdjust="spacingAndGlyphs">Peron 3</text>
<ellipse cx="1510.5" cy="733" rx="55" ry="78" fill="none" stroke="#ff0000" stroke-width="3.5"/>
</svg>
</body></html>
